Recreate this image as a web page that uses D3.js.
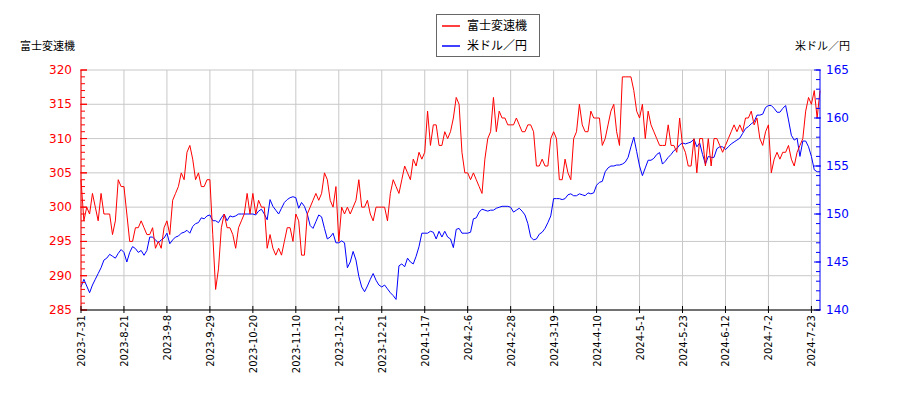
<!DOCTYPE html>
<html><head><meta charset="utf-8">
<script src="https://cdn.jsdelivr.net/npm/d3@7"></script>
<style>body{margin:0;background:#fff}svg{font-family:"DejaVu Sans","Noto Sans CJK JP",sans-serif}</style>
</head><body><svg id="c" width="900" height="400"></svg>
<script>
const tickLabels=["2023-7-31","2023-8-21","2023-9-8","2023-9-29","2023-10-20","2023-11-10","2023-12-1","2023-12-21","2024-1-17","2024-2-6","2024-2-28","2024-3-19","2024-4-10","2024-5-1","2024-5-23","2024-6-12","2024-7-2","2024-7-23"];
const fujiValues=[
304,298,300,299,302,300,298,302,299,299,299,296,298,304,303,
303,299,295,295,297,297,298,297,296,296,297,294,295,294,297,
298,296,301,302,303,305,304,308,309,307,304,305,303,303,304,
304,296,288,291,297,299,297,297,296,294,297,298,299,302,299,
302,299,301,300,300,294,296,294,293,294,293,295,297,297,295,
299,298,293,293,299,300,301,302,301,302,305,304,301,300,303,
295,300,299,300,299,300,301,304,300,300,301,299,298,300,300,
300,300,298,302,304,303,302,304,306,305,304,307,306,308,307,
308,314,309,312,312,309,309,311,310,311,313,316,315,308,305,
305,304,305,304,303,302,307,310,311,316,311,314,313,313,312,
312,312,313,312,311,311,312,312,311,306,306,307,306,306,310,
311,310,304,304,307,305,304,310,311,315,312,311,311,314,313,
313,313,309,310,312,314,315,311,309,319,319,319,319,317,314,
313,315,310,314,312,311,310,309,309,309,312,309,309,308,313,
309,308,306,306,310,305,310,310,306,310,306,310,310,309,308,
309,310,311,312,311,312,311,313,313,314,312,313,310,309,311,
312,305,307,308,307,308,308,309,307,306,308,309,310,314,316,
315,317,313,317];
const usdjpyValues=[
142.4,143.2,142.5,141.8,142.6,143.2,143.8,144.4,145.2,145.4,145.8,145.6,145.4,145.9,146.3,
146,145,146,146.6,146.4,146,146.2,145.7,146.2,147.6,147.6,147.3,147,147.3,147.5,
148,146.9,147.3,147.6,147.7,148,148.1,148.3,148,148.7,149,149.1,149.6,149.5,149.8,
149.9,149.3,149.3,149.1,149.6,150,149.3,149.8,149.7,149.8,150,150,150,150,150,
150,149.9,150.3,150.5,150,149.4,151.5,150.8,150.4,150,150.6,151.2,151.5,151.7,151.8,
151.7,150.6,151.2,150.8,150,148.8,148.5,149.2,149.9,149.7,148.5,147.4,147.6,148,147,
147,147.2,147,144.4,145,146.1,145.2,143.5,142.4,141.9,142.5,143.2,143.8,143.1,142.6,
142.4,142.6,142.2,141.8,141.5,141.1,144.6,144.8,144.5,145.4,145,144.8,145.6,146.6,148,
148,148,148.2,148.1,147.4,148.2,147.6,148.2,147.6,147.4,146.5,148.4,148.5,148,148,
148,148.1,149.5,149.6,150.2,150.5,150.4,150.3,150.4,150.4,150.6,150.7,150.8,150.8,150.8,
150.7,150.2,150.4,150.6,150.3,149.9,149,147.6,147.3,147.4,147.9,148.1,148.5,149.1,149.8,
151.6,151.6,151.6,151.5,151.6,152,152.1,151.9,151.9,152.1,152,151.9,152.2,152.1,152.2,
153,153.3,153.4,154.4,154.8,155,155,155.1,155.1,155.2,155.4,155.9,157,158,156.5,
155,154,154.8,155.6,155.6,155.8,156.2,156.4,155.2,155.5,155.9,156.2,156.6,156.8,157.2,
157.4,157.3,157.4,157.5,157.8,157,157.4,156.2,155.2,156,155.9,155.9,156.8,157,157,
156.7,157,157.3,157.5,157.7,157.9,158.4,158.9,159.1,159.4,159.6,160.3,160.3,160.4,161.1,
161.3,161.3,161,160.6,160.6,161,161.3,159.8,158.2,157.7,157.9,156,157.6,157.6,157,
156,154.6,154.4,154.4];
const leftTicks=[285,290,295,300,305,310,315,320];
const rightTicks=[140,145,150,155,160,165];

const svg=d3.select("#c");
const L=81,R=820,T=70,B=310;
const n=fujiValues.length;
const x=d3.scaleLinear().domain([0,n-1]).range([L,R]);
const yL=d3.scaleLinear().domain([285,320]).range([B,T]);
const yR=d3.scaleLinear().domain([140,165]).range([B,T]);
const tickIdx=tickLabels.map((d,i)=>i*15);

const g=svg.append("g");
g.selectAll(".hg").data(leftTicks).join("line").attr("x1",L).attr("x2",R).attr("y1",d=>yL(d)).attr("y2",d=>yL(d)).attr("stroke","#c8c8c8");
g.selectAll(".vg").data(tickIdx).join("line").attr("x1",d=>x(d)).attr("x2",d=>x(d)).attr("y1",T).attr("y2",B).attr("stroke","#c8c8c8");

const line=(arr,ys)=>d3.line().x((d,i)=>x(i)).y(d=>ys(d))(arr);
svg.append("path").attr("d",line(usdjpyValues,yR)).attr("fill","none").attr("stroke","#0000ff").attr("stroke-width",1);
svg.append("path").attr("d",line(fujiValues,yL)).attr("fill","none").attr("stroke","#ff0000").attr("stroke-width",1);

// left axis
const la=svg.append("g").attr("transform",`translate(${L},0)`);
la.append("line").attr("y1",T).attr("y2",B).attr("stroke","red");
la.selectAll(".mt").data(d3.range(285,321)).join("line").attr("x1",0).attr("x2",d=>d%5===0?-6+6+6:4).attr("y1",d=>yL(d)).attr("y2",d=>yL(d)).attr("stroke","red");
la.selectAll(".ml").data(leftTicks).join("line").attr("x1",-1).attr("x2",6).attr("y1",d=>yL(d)).attr("y2",d=>yL(d)).attr("stroke","red");
la.selectAll("text").data(leftTicks).join("text").attr("x",-9).attr("y",d=>yL(d)+4).attr("text-anchor","end").attr("font-size",12).attr("fill","#ff0000").text(d=>d);
// right axis
const ra=svg.append("g").attr("transform",`translate(${R},0)`);
ra.append("line").attr("y1",T).attr("y2",B).attr("stroke","blue");
ra.selectAll(".mt").data(d3.range(140,166)).join("line").attr("x1",0).attr("x2",-4).attr("y1",d=>yR(d)).attr("y2",d=>yR(d)).attr("stroke","blue");
ra.selectAll(".ml").data(rightTicks).join("line").attr("x1",-6).attr("x2",1).attr("y1",d=>yR(d)).attr("y2",d=>yR(d)).attr("stroke","blue");
ra.selectAll("text").data(rightTicks).join("text").attr("x",6).attr("y",d=>yR(d)+4).attr("font-size",12).attr("fill","#0000ff").text(d=>d);
// bottom axis
const ba=svg.append("g");
ba.append("line").attr("x1",L).attr("x2",R).attr("y1",B).attr("y2",B).attr("stroke","black");
ba.selectAll(".bt").data(tickIdx).join("line").attr("x1",d=>x(d)).attr("x2",d=>x(d)).attr("y1",B-4).attr("y2",B+3).attr("stroke","black");
ba.selectAll("text").data(tickIdx).join("text").attr("transform",d=>`translate(${x(d)+4},${B+5}) rotate(-90)`).attr("text-anchor","end").attr("font-size",10).attr("fill","#000").text((d,i)=>tickLabels[i]);

svg.append("text").attr("x",20).attr("y",50).attr("font-size",11).text("富士変速機");
svg.append("text").attr("x",850).attr("y",50).attr("text-anchor","end").attr("font-size",11).text("米ドル／円");

const lg=svg.append("g");
lg.append("rect").attr("x",436.5).attr("y",14.5).attr("width",103).attr("height",42).attr("fill","#fff").attr("stroke","#666");
lg.append("line").attr("x1",442).attr("x2",460).attr("y1",26).attr("y2",26).attr("stroke","red").attr("stroke-width",1.5);
lg.append("line").attr("x1",442).attr("x2",460).attr("y1",46).attr("y2",46).attr("stroke","blue").attr("stroke-width",1.5);
lg.append("text").attr("x",467).attr("y",30).attr("font-size",12).text("富士変速機");
lg.append("text").attr("x",467).attr("y",50).attr("font-size",12).text("米ドル／円");
</script></body></html>
